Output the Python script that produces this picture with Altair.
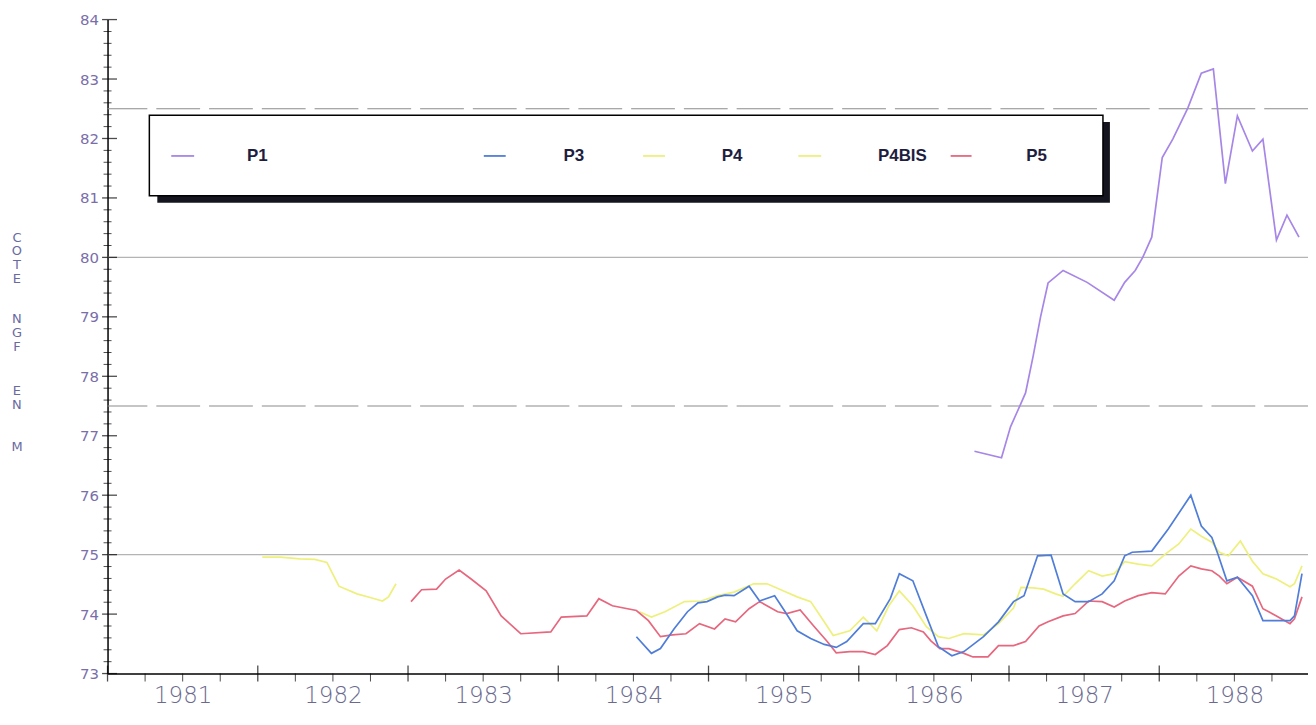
import altair as alt
import pandas as pd

# ---------------- data ----------------
series_names = ["P1", "P3", "P4", "P4BIS", "P5"]
series_colors = ["#a686e6", "#4f7dd8", "#eef07c", "#eef07c", "#e6677e"]

p1_t = [1986.77, 1986.95, 1987.01, 1987.07, 1987.11, 1987.16, 1987.21, 1987.26, 1987.36,
        1987.52, 1987.70, 1987.77, 1987.84, 1987.89, 1987.95, 1988.02, 1988.09, 1988.19,
        1988.28, 1988.36, 1988.44, 1988.52, 1988.62, 1988.69, 1988.78, 1988.85, 1988.93]
p1_v = [76.74, 76.63, 77.15, 77.49, 77.72, 78.33, 79.00, 79.57, 79.78,
        79.58, 79.28, 79.58, 79.78, 80.00, 80.34, 81.68, 81.99, 82.51,
        83.10, 83.17, 81.24, 82.38, 81.79, 81.99, 80.29, 80.71, 80.34]

p3_t = [1984.52, 1984.62, 1984.68, 1984.77, 1984.86, 1984.93, 1984.99, 1985.06, 1985.11,
        1985.17, 1985.27, 1985.34, 1985.44, 1985.51, 1985.59, 1985.68, 1985.77, 1985.85,
        1985.92, 1986.03, 1986.11, 1986.21, 1986.27, 1986.36, 1986.45, 1986.53, 1986.62,
        1986.70, 1986.83, 1986.93, 1987.03, 1987.10, 1987.19, 1987.28, 1987.36, 1987.44,
        1987.53, 1987.62, 1987.70, 1987.77, 1987.82, 1987.95, 1988.06, 1988.21, 1988.28,
        1988.35, 1988.39, 1988.45, 1988.52, 1988.62, 1988.69, 1988.78, 1988.87, 1988.90,
        1988.95]
p3_v = [73.62, 73.34, 73.42, 73.75, 74.04, 74.19, 74.21, 74.29, 74.32,
        74.31, 74.47, 74.22, 74.31, 74.04, 73.72, 73.59, 73.49, 73.44,
        73.54, 73.84, 73.84, 74.26, 74.68, 74.56, 73.97, 73.45, 73.30,
        73.37, 73.62, 73.87, 74.21, 74.31, 74.98, 74.99, 74.34, 74.21,
        74.21, 74.34, 74.56, 74.98, 75.04, 75.06, 75.43, 76.00, 75.48,
        75.29, 75.01, 74.56, 74.62, 74.31, 73.89, 73.89, 73.89, 73.97,
        74.68]

p4_t = [1982.03, 1982.15, 1982.28, 1982.38, 1982.46, 1982.54, 1982.66, 1982.76, 1982.83,
        1982.87, 1982.92]
p4_v = [74.96, 74.96, 74.93, 74.92, 74.87, 74.47, 74.34, 74.27, 74.22,
        74.29, 74.51]

p4bis_t = [1984.54, 1984.62, 1984.71, 1984.84, 1984.95, 1985.06, 1985.17, 1985.30, 1985.39,
           1985.50, 1985.59, 1985.68, 1985.77, 1985.83, 1985.94, 1986.03, 1986.12, 1986.20,
           1986.27, 1986.36, 1986.45, 1986.53, 1986.60, 1986.70, 1986.83, 1986.93, 1987.03,
           1987.08, 1987.16, 1987.23, 1987.31, 1987.36, 1987.44, 1987.53, 1987.62, 1987.70,
           1987.77, 1987.86, 1987.95, 1988.04, 1988.13, 1988.21, 1988.28, 1988.35, 1988.40,
           1988.46, 1988.54, 1988.62, 1988.69, 1988.78, 1988.87, 1988.90, 1988.95]
p4bis_v = [74.04, 73.95, 74.04, 74.21, 74.22, 74.31, 74.37, 74.51, 74.51,
           74.39, 74.29, 74.21, 73.87, 73.64, 73.72, 73.95, 73.72, 74.14,
           74.39, 74.14, 73.79, 73.62, 73.59, 73.67, 73.65, 73.84, 74.10,
           74.45, 74.44, 74.42, 74.34, 74.30, 74.51, 74.73, 74.64, 74.68,
           74.88, 74.84, 74.81, 75.01, 75.18, 75.43, 75.31, 75.21, 75.04,
           74.98, 75.23, 74.89, 74.68, 74.59, 74.46, 74.51, 74.81]

p5_t = [1983.02, 1983.09, 1983.19, 1983.25, 1983.34, 1983.42, 1983.52, 1983.62, 1983.75,
        1983.95, 1984.02, 1984.19, 1984.27, 1984.36, 1984.52, 1984.60, 1984.68, 1984.76,
        1984.85, 1984.94, 1985.04, 1985.11, 1985.18, 1985.27, 1985.34, 1985.46, 1985.52,
        1985.61, 1985.70, 1985.79, 1985.85, 1985.94, 1986.03, 1986.11, 1986.19, 1986.27,
        1986.35, 1986.43, 1986.48, 1986.54, 1986.60, 1986.70, 1986.76, 1986.86, 1986.93,
        1987.03, 1987.11, 1987.20, 1987.26, 1987.36, 1987.44, 1987.53, 1987.62, 1987.70,
        1987.77, 1987.86, 1987.95, 1988.04, 1988.13, 1988.21, 1988.28, 1988.35, 1988.40,
        1988.45, 1988.52, 1988.62, 1988.69, 1988.78, 1988.87, 1988.90, 1988.95]
p5_v = [74.21, 74.41, 74.42, 74.59, 74.74, 74.59, 74.39, 73.97, 73.67,
        73.70, 73.95, 73.97, 74.26, 74.14, 74.06, 73.89, 73.62, 73.65,
        73.67, 73.84, 73.75, 73.92, 73.87, 74.09, 74.21, 74.04, 74.01,
        74.07, 73.80, 73.54, 73.35, 73.37, 73.37, 73.32, 73.47, 73.74,
        73.77, 73.70, 73.55, 73.42, 73.42, 73.34, 73.28, 73.28, 73.47,
        73.47, 73.54, 73.80, 73.87, 73.97, 74.01, 74.22, 74.21, 74.12,
        74.22, 74.31, 74.36, 74.34, 74.64, 74.81, 74.76, 74.73, 74.64,
        74.51, 74.62, 74.47, 74.09, 73.97, 73.84, 73.92, 74.29]

year_labels = [1981, 1982, 1983, 1984, 1985, 1986, 1987, 1988]
y_major = list(range(73, 85))
solid_levels = [75, 80]
dashed_levels = [77.5, 82.5]
y_title_words = ["COTE", "NGF", "EN", "M"]   # written vertically, one letter per line

# ---------------- build tables ----------------
rows = []
for name, ts, vs in [("P1", p1_t, p1_v), ("P3", p3_t, p3_v), ("P4", p4_t, p4_v),
                     ("P4BIS", p4bis_t, p4bis_v), ("P5", p5_t, p5_v)]:
    for t, v in zip(ts, vs):
        rows.append({"serie": name, "t": t, "v": v})
df = pd.DataFrame(rows)

X_MIN, X_MAX = 1981, 1988.99
xscale = alt.Scale(domain=[X_MIN, X_MAX], nice=False, zero=False)
yscale = alt.Scale(domain=[73, 84], nice=False, zero=False)

PLOT_W, PLOT_H = 1206, 657

mid_years = [y + 0.5 for y in year_labels]
quarters = [y + q for y in year_labels for q in (0.25, 0.5, 0.75)]
y_minor = [round(73 + 0.2 * i, 1) for i in range(56) if i % 5 != 0]

color_scale = alt.Scale(domain=series_names, range=series_colors)

X_AXIS = alt.Axis(
    values=mid_years, labelExpr="'' + floor(datum.value)", ticks=False, grid=False,
    domain=True, domainColor="#000000", domainWidth=1.5, labelFont="DejaVu Sans",
    labelFontSize=23, labelFontWeight=300, labelColor="#6a6a8e", labelPadding=11,
    labelFlush=False, title=None)
Y_AXIS = alt.Axis(
    values=y_major, ticks=False, grid=False, domain=True, domainColor="#000000",
    domainWidth=1.5, labelFont="DejaVu Sans", labelFontSize=15, labelColor="#7a6eaa",
    labelPadding=9, labelFlush=False, title=None)


def X(field):
    return alt.X(field, scale=xscale, axis=X_AXIS)


def Y(field):
    return alt.Y(field, scale=yscale, axis=Y_AXIS)


def line_layer(name):
    return alt.Chart(df).transform_filter(alt.datum.serie == name).mark_line(
        strokeWidth=1.7).encode(
        x=X("t:Q"), y=Y("v:Q"),
        color=alt.Color("serie:N", scale=color_scale, legend=None))


grid_solid = alt.Chart(pd.DataFrame({"v": solid_levels})).mark_rule(
    color="#b4b4b4", strokeWidth=1.2).encode(y=Y("v:Q"))
grid_dashed = alt.Chart(pd.DataFrame({"v": dashed_levels})).mark_rule(
    color="#8c8c8c", strokeWidth=1.2, strokeDash=[44, 9]).encode(y=Y("v:Q"))

# axis ticks crossing the axis lines
y_major_ticks = alt.Chart(pd.DataFrame({"v": y_major, "t": X_MIN})).mark_tick(
    orient="horizontal", size=15, thickness=1.3, color="#000000", xOffset=2).encode(
    x=X("t:Q"), y=Y("v:Q"))
y_minor_ticks = alt.Chart(pd.DataFrame({"v": y_minor, "t": X_MIN})).mark_tick(
    orient="horizontal", size=8, thickness=1, color="#000000").encode(
    x=X("t:Q"), y=Y("v:Q"))
x_major_ticks = alt.Chart(pd.DataFrame({"t": year_labels, "v": 73})).mark_tick(
    orient="vertical", size=16, thickness=1.3, color="#000000").encode(
    x=X("t:Q"), y=Y("v:Q"))
x_minor_ticks = alt.Chart(pd.DataFrame({"t": quarters, "v": 73})).mark_tick(
    orient="vertical", size=8, thickness=1, color="#000000", yOffset=4).encode(
    x=X("t:Q"), y=Y("v:Q"))

one = pd.DataFrame({"k": [0]})

# ---------------- vertical y-axis title ----------------
title_layers = []
for word, top in zip(y_title_words, [219, 301, 373, 429]):
    title_layers.append(alt.Chart(one).mark_text(
        align="center", baseline="middle", font="DejaVu Sans", fontSize=13,
        lineHeight=13.8, lineBreak="|", color="#6a6aa2").encode(
        x=alt.value(-91), y=alt.value(top), text=alt.value("|".join(word))))

# ---------------- hand-drawn legend box ----------------
legend_layers = [
    alt.Chart(one).mark_rect(color="#15151f").encode(
        x=alt.value(50), x2=alt.value(1007), y=alt.value(103), y2=alt.value(184)),
    alt.Chart(one).mark_rect(fill="#ffffff", stroke="#000000", strokeWidth=1.5).encode(
        x=alt.value(42), x2=alt.value(1000), y=alt.value(96), y2=alt.value(177)),
]
legend_items = [  # (series, dash start, dash end, label left) in legend-box pixels
    ("P1", 64, 87, 140), ("P3", 378, 400, 458), ("P4", 538, 560, 617),
    ("P4BIS", 694, 717, 774), ("P5", 847, 868, 923)]
for name, a, b, lx in legend_items:
    col = series_colors[series_names.index(name)]
    legend_layers.append(alt.Chart(one).mark_rule(color=col, strokeWidth=1.8).encode(
        x=alt.value(a), x2=alt.value(b), y=alt.value(137)))
    legend_layers.append(alt.Chart(one).mark_text(
        align="left", baseline="middle", font="Liberation Sans", fontSize=17,
        fontWeight="bold", color="#1e1e40").encode(
        x=alt.value(lx), y=alt.value(137), text=alt.value(name)))

layers = [grid_solid, grid_dashed,
          line_layer("P4"), line_layer("P4BIS"), line_layer("P5"),
          line_layer("P3"), line_layer("P1"),
          y_minor_ticks, y_major_ticks, x_minor_ticks, x_major_ticks] \
    + title_layers + legend_layers

chart = alt.layer(*layers).properties(
    width=PLOT_W, height=PLOT_H,
    autosize=alt.AutoSizeParams(type="none"),
    padding={"left": 100, "top": 10, "right": 0, "bottom": 40},
    background="#ffffff",
).configure_view(stroke=None)

chart.save("out.html", embed_options={"renderer": "svg", "actions": False})
